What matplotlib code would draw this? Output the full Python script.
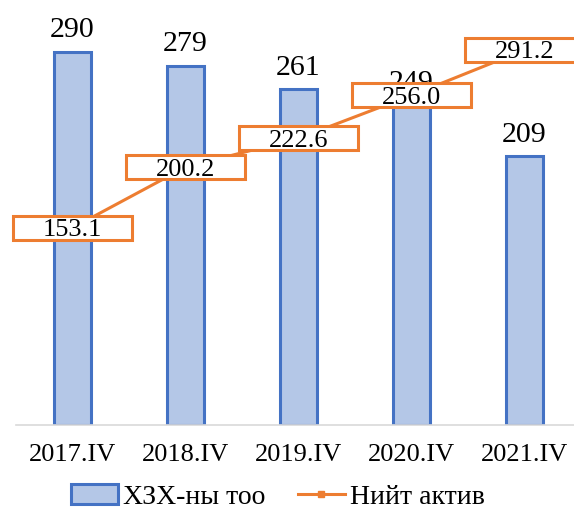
import matplotlib
matplotlib.use("Agg")
import matplotlib.pyplot as plt
import matplotlib.transforms as mtransforms
from matplotlib.patches import Rectangle, Patch
from matplotlib.lines import Line2D
import numpy as np

plt.rcParams['font.family'] = ['Liberation Serif', 'DejaVu Serif']

# data
categories = ['2017.IV', '2018.IV', '2019.IV', '2020.IV', '2021.IV']
bank_count = [290, 279, 261, 249, 209]       # ХЗХ-ны тоо
total_assets = [153.1, 200.2, 222.6, 256.0, 291.2]  # Нийт актив

bar_fill = '#B4C7E7'
bar_edge = '#4472C4'
orange = '#ED7D31'

fig = plt.figure(figsize=(5.74, 5.09), dpi=100)
ax = fig.add_axes([16 / 574, 84 / 509, 565 / 574, 425 / 509])

x = np.arange(len(categories))
bars = ax.bar(x, bank_count, width=0.32, color=bar_fill, edgecolor=bar_edge,
              linewidth=2.2, zorder=2)

for xi, v in zip(x, bank_count):
    ax.annotate(str(v), (xi, v), xytext=(0, 6), textcoords='offset points',
                ha='center', va='bottom', fontsize=21.5, zorder=3)

ax.plot(x, total_assets, color=orange, linewidth=2.2, zorder=4)

# label boxes on the line
for xi, v in zip(x, total_assets):
    trans = fig.dpi_scale_trans + mtransforms.ScaledTranslation(xi, v, ax.transData)
    rect = Rectangle((-0.595, -0.12), 1.19, 0.24, transform=trans,
                     facecolor='white', edgecolor=orange, linewidth=2.2,
                     zorder=5, clip_on=False)
    ax.add_patch(rect)
    ax.text(xi, v, f'{v:.1f}', ha='center', va='center_baseline',
            fontsize=19, zorder=6)

ax.set_xlim(-0.5, len(categories) - 0.5)
ax.set_ylim(0, 330)
ax.set_xticks(x)
ax.set_xticklabels(categories, fontsize=19)
ax.tick_params(axis='x', length=0, pad=14)
ax.set_yticks([])
for s in ['top', 'right', 'left']:
    ax.spines[s].set_visible(False)
ax.spines['bottom'].set_color('#D9D9D9')
ax.spines['bottom'].set_linewidth(1.2)

handles = [Patch(facecolor=bar_fill, edgecolor=bar_edge, linewidth=2.2),
           Line2D([0], [0], color=orange, linewidth=2.2, marker='s',
                  markersize=4, markerfacecolor=orange, markeredgecolor=orange)]
fig.legend(handles, ['ХЗХ-ны тоо', 'Нийт актив'], loc='center',
           bbox_to_anchor=(278 / 574, 1 - 497 / 509), ncol=2, frameon=False,
           fontsize=20, handlelength=1.7, handletextpad=0.2, columnspacing=1.15,
           borderaxespad=0, borderpad=0)

fig.savefig('out.png', dpi=100)
